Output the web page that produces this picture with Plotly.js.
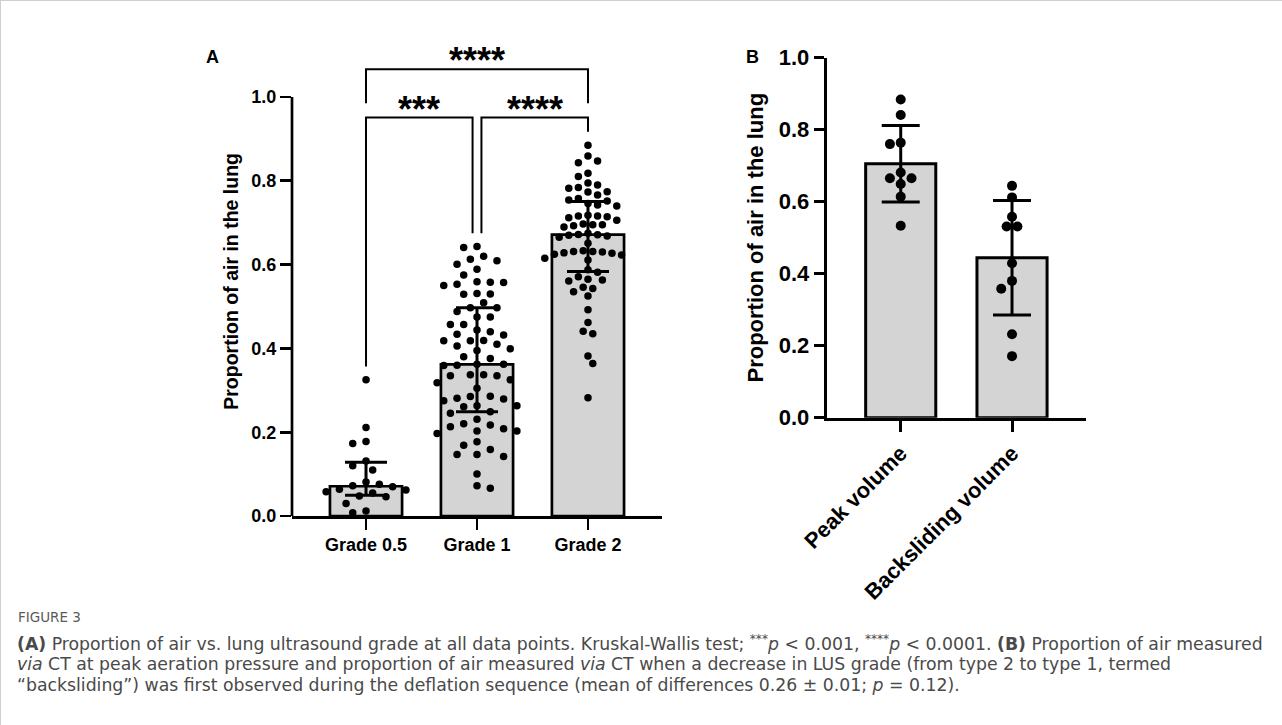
<!DOCTYPE html>
<html>
<head>
<meta charset="utf-8">
<script src="https://cdn.plot.ly/plotly-3.0.1.min.js"></script>
<style>
html,body{margin:0;padding:0;background:#fff;}
#chart{width:1282px;height:725px;}
</style>
</head>
<body>
<div id="chart"></div>
<script>
// ---------- DATA ----------
const categoriesA = ['Grade 0.5', 'Grade 1', 'Grade 2'];
const grade05 = [0.325, 0.211, 0.178, 0.173, 0.131, 0.120, 0.110, 0.081, 0.076, 0.072,
  0.070, 0.064, 0.062, 0.058, 0.055, 0.048, 0.046, 0.030, 0.012, 0.008];
const grade1 = [0.643, 0.641, 0.620, 0.613, 0.609, 0.601, 0.589, 0.575, 0.559, 0.558,
  0.557, 0.553, 0.550, 0.531, 0.530, 0.529, 0.509, 0.497, 0.497, 0.488,
  0.475, 0.475, 0.457, 0.457, 0.444, 0.440, 0.434, 0.432, 0.419, 0.418,
  0.418, 0.410, 0.406, 0.399, 0.395, 0.380, 0.376, 0.362, 0.362, 0.360,
  0.359, 0.337, 0.337, 0.335, 0.335, 0.325, 0.318, 0.305, 0.286, 0.285,
  0.281, 0.279, 0.275, 0.263, 0.263, 0.261, 0.249, 0.245, 0.231, 0.220,
  0.217, 0.213, 0.208, 0.203, 0.203, 0.197, 0.177, 0.169, 0.159, 0.147,
  0.147, 0.142, 0.100, 0.072, 0.066];
const grade2 = [0.885, 0.859, 0.847, 0.843, 0.818, 0.810, 0.795, 0.790, 0.784, 0.782,
  0.774, 0.773, 0.766, 0.758, 0.754, 0.752, 0.746, 0.742, 0.740, 0.718,
  0.716, 0.716, 0.714, 0.712, 0.706, 0.697, 0.695, 0.695, 0.693, 0.690,
  0.675, 0.672, 0.671, 0.670, 0.668, 0.665, 0.651, 0.633, 0.631, 0.631,
  0.630, 0.628, 0.627, 0.625, 0.623, 0.615, 0.611, 0.588, 0.582, 0.571,
  0.565, 0.563, 0.561, 0.546, 0.543, 0.535, 0.525, 0.492, 0.462, 0.441,
  0.435, 0.382, 0.364, 0.282];
const categoriesB = ['Peak volume', 'Backsliding volume'];
const peakVolume = [0.884, 0.841, 0.764, 0.760, 0.681, 0.665, 0.665, 0.649, 0.614, 0.533];
const backslidingVolume = [0.644, 0.612, 0.558, 0.531, 0.531, 0.429, 0.380, 0.358, 0.232, 0.171];
const yTickVals = [0, 0.2, 0.4, 0.6, 0.8, 1.0];
const comparisons = [
  {from: 0, to: 1, label: '***'},
  {from: 1, to: 2, label: '****'},
  {from: 0, to: 2, label: '****'}
];

// ---------- STATS ----------
function quantile(arr, p) { // GraphPad style: rank = p*(n+1)
  const s = arr.slice().sort((a, b) => a - b);
  const n = s.length;
  let r = p * (n + 1);
  if (r <= 1) return s[0];
  if (r >= n) return s[n - 1];
  const lo = Math.floor(r), f = r - lo;
  return s[lo - 1] + f * (s[lo] - s[lo - 1]);
}
const mean = a => a.reduce((s, v) => s + v, 0) / a.length;
const sd = a => { const m = mean(a); return Math.sqrt(a.reduce((s, v) => s + (v - m) ** 2, 0) / (a.length - 1)); };

const groupsA = [grade05, grade1, grade2];
const medA = groupsA.map(g => quantile(g, 0.5));
const q1A = groupsA.map(g => quantile(g, 0.25));
const q3A = groupsA.map(g => quantile(g, 0.75));
const groupsB = [peakVolume, backslidingVolume];
const meanB = groupsB.map(mean);
const sdB = groupsB.map(sd);

// ---------- GEOMETRY ----------
const W = 1282, H = 725;
const FONT = 'Liberation Sans, Arial, Helvetica, sans-serif';
const A = {xpx: [292, 662], xr: [-0.667, 2.667], ypx0: 516, pxPerY: 419, yr: [0, 1.12]};
const B = {xpx: [826.7, 1085.7], xr: [-0.665, 1.662], ypx0: 417.7, pxPerY: 360, yr: [0, 1.0]};
function doms(P) {
  const xd = [P.xpx[0] / W, P.xpx[1] / W];
  const yTopPx = P.ypx0 - P.pxPerY * (P.yr[1] - P.yr[0]);
  const yd = [(H - P.ypx0) / H, (H - yTopPx) / H];
  const pxPerX = (P.xpx[1] - P.xpx[0]) / (P.xr[1] - P.xr[0]);
  return {xd, yd, pxPerX};
}
const dA = doms(A), dB = doms(B);
// swarm spacing (px): collision distance and grid step per group
const swarmA = [{d: 11, step: 13.3}, {d: 10.5, step: 13.3}, {d: 8.8, step: 9.6}];
const swarmB = {d: 10.5, step: 10.8};

// grid beeswarm: offsets on a half-step grid, nearest free slot to the centre
function beeswarm(values, pxX, pxY, d, step) {
  const order = values.map((v, i) => i).sort((a, b) => values[b] - values[a]);
  const placed = [];
  const off = new Array(values.length);
  const cands = [0];
  for (let k = 1; k <= 20; k++) { cands.push(k * step / 2, -k * step / 2); }
  let flip = false;
  order.forEach(i => {
    const y = values[i] * pxY;
    const near = placed.filter(p => Math.abs(p.y - y) < d);
    const list = cands.slice().sort((a, b) => (Math.abs(a) - Math.abs(b)) || (flip ? a - b : b - a));
    const x = list.find(c => near.every(p => (p.x - c) ** 2 + (p.y - y) ** 2 >= d * d - 1e-6));
    flip = !flip;
    placed.push({x, y});
    off[i] = x / pxX;
  });
  return off;
}

// ---------- TRACES ----------
const traces = [];
traces.push({
  type: 'bar', x: [0, 1, 2], y: medA, width: 0.65, xaxis: 'x', yaxis: 'y',
  marker: {color: '#d4d4d4', line: {color: '#000', width: 2.7}},
  error_y: {type: 'data', symmetric: false,
    array: medA.map((m, i) => q3A[i] - m), arrayminus: medA.map((m, i) => m - q1A[i]),
    color: '#000', thickness: 3, width: 21},
  hoverinfo: 'skip'
});
groupsA.forEach((g, gi) => {
  const off = beeswarm(g, dA.pxPerX, A.pxPerY, swarmA[gi].d, swarmA[gi].step);
  traces.push({type: 'scatter', mode: 'markers', xaxis: 'x', yaxis: 'y',
    x: g.map((v, i) => gi + off[i]), y: g,
    marker: {color: '#000', size: 7.5, line: {width: 0}}, cliponaxis: false, hoverinfo: 'skip'});
});
traces.push({
  type: 'bar', x: [0, 1], y: meanB, width: 0.63, xaxis: 'x2', yaxis: 'y2',
  marker: {color: '#d4d4d4', line: {color: '#000', width: 3}},
  error_y: {type: 'data', array: sdB, color: '#000', thickness: 3, width: 19},
  hoverinfo: 'skip'
});
groupsB.forEach((g, gi) => {
  const off = beeswarm(g, dB.pxPerX, B.pxPerY, swarmB.d, swarmB.step);
  traces.push({type: 'scatter', mode: 'markers', xaxis: 'x2', yaxis: 'y2',
    x: g.map((v, i) => gi + off[i]), y: g,
    marker: {color: '#000', size: 10, line: {width: 0}}, cliponaxis: false, hoverinfo: 'skip'});
});

// ---------- SHAPES / ANNOTATIONS ----------
const shapes = [];
const annotations = [];
// y-axis line for panel A (0 to 1.0 only)
shapes.push({type: 'line', xref: 'x domain', yref: 'y', x0: 0, x1: 0, y0: 0, y1: 1.0,
  line: {color: '#000', width: 2.7}});
// significance brackets
const gap = 0.032, lowLevel = 0.951, topLevel = 1.066, inset = 0.04;
const groupMax = groupsA.map(g => Math.max(...g));
comparisons.forEach(c => {
  const adjacent = (c.to - c.from) === 1;
  const level = adjacent ? lowLevel : topLevel;
  const x0 = c.from + (adjacent && c.from === 1 ? inset : 0);
  const x1 = c.to - (adjacent && c.to === 1 ? inset : 0);
  const yL = adjacent ? groupMax[c.from] + gap : lowLevel + 0.034;
  const yR = adjacent ? groupMax[c.to] + gap : lowLevel + 0.034;
  shapes.push({type: 'path', xref: 'x', yref: 'y',
    path: `M ${x0},${yL} L ${x0},${level} L ${x1},${level} L ${x1},${yR}`,
    line: {color: '#000', width: 2}});
  annotations.push({xref: 'x', yref: 'y', x: (x0 + x1) / 2, y: level, text: c.label,
    showarrow: false, xanchor: 'center', yanchor: 'bottom', yshift: -14,
    font: {family: FONT, size: 36, weight: 'bold', color: '#000'}});
});
// panel letters
annotations.push({xref: 'paper', yref: 'paper', x: 212 / W, y: 1 - 57 / H, text: 'A',
  showarrow: false, xanchor: 'center', yanchor: 'middle',
  font: {family: FONT, size: 18, weight: 'bold', color: '#000'}});
annotations.push({xref: 'paper', yref: 'paper', x: 752 / W, y: 1 - 57 / H, text: 'B',
  showarrow: false, xanchor: 'center', yanchor: 'middle',
  font: {family: FONT, size: 18, weight: 'bold', color: '#000'}});
// caption
const capFont = {family: 'DejaVu Sans, Noto Sans, sans-serif', size: 17.3, color: '#4a4a4a'};
const captionLines = [
  '<b>(A)</b> Proportion of air vs. lung ultrasound grade at all data points. Kruskal-Wallis test; <sup>***</sup><i>p</i> &lt; 0.001, <sup>****</sup><i>p</i> &lt; 0.0001. <b>(B)</b> Proportion of air measured',
  '<i>via</i> CT at peak aeration pressure and proportion of air measured <i>via</i> CT when a decrease in LUS grade (from type 2 to type 1, termed',
  '\u201cbacksliding\u201d) was first observed during the deflation sequence (mean of differences 0.26 \u00b1 0.01; <i>p</i> = 0.12).'
];
annotations.push({xref: 'paper', yref: 'paper', x: 17 / W, y: 1 - 617 / H, text: 'FIGURE 3',
  showarrow: false, xanchor: 'left', yanchor: 'middle', borderpad: 0,
  font: {family: 'DejaVu Sans, Noto Sans, sans-serif', size: 13.5, color: '#5a5a5a'}});
captionLines.forEach((t, i) => {
  annotations.push({xref: 'paper', yref: 'paper', x: 16 / W, y: 1 - (643 + 21 * i) / H, text: t,
    showarrow: false, xanchor: 'left', yanchor: 'middle', align: 'left', borderpad: 0, font: capFont});
});
// frame
shapes.push({type: 'line', xref: 'paper', yref: 'paper', x0: 0, x1: 1, y0: 1, y1: 1, line: {color: '#cfcfcf', width: 2}});
shapes.push({type: 'line', xref: 'paper', yref: 'paper', x0: 0, x1: 0, y0: 0, y1: 1, line: {color: '#cfcfcf', width: 2}});

// ---------- LAYOUT ----------
const tickA = {family: FONT, size: 18, weight: 'bold', color: '#000'};
const tickB = {family: FONT, size: 22, weight: 'bold', color: '#000'};
const layout = {
  width: W, height: H, margin: {l: 0, r: 0, t: 0, b: 0},
  paper_bgcolor: '#fff', plot_bgcolor: 'rgba(0,0,0,0)', showlegend: false,
  barmode: 'overlay',
  xaxis: {domain: dA.xd, range: A.xr, anchor: 'y', tickvals: [0, 1, 2], ticktext: categoriesA,
    ticks: 'outside', ticklen: 11, tickwidth: 2.7, tickcolor: '#000',
    showline: true, linewidth: 2.7, linecolor: '#000', showgrid: false, zeroline: false,
    tickfont: tickA, fixedrange: true},
  yaxis: {domain: dA.yd, range: A.yr, anchor: 'x', tickvals: yTickVals, tickformat: '.1f',
    ticks: 'outside', ticklen: 11, tickwidth: 2.7, tickcolor: '#000',
    showline: false, showgrid: false, zeroline: false, tickfont: tickA, fixedrange: true,
    title: {text: 'Proportion of air in the lung', standoff: 7,
      font: {family: FONT, size: 19.5, weight: 'bold', color: '#000'}}},
  xaxis2: {domain: dB.xd, range: B.xr, anchor: 'y2', tickvals: [0, 1], ticktext: categoriesB,
    tickangle: -45, ticks: 'outside', ticklen: 11, tickwidth: 3, tickcolor: '#000',
    showline: true, linewidth: 3, linecolor: '#000', showgrid: false, zeroline: false,
    tickfont: tickB, fixedrange: true},
  yaxis2: {domain: dB.yd, range: B.yr, anchor: 'x2', tickvals: yTickVals, tickformat: '.1f',
    ticks: 'outside', ticklen: 10, tickwidth: 3, tickcolor: '#000',
    showline: true, linewidth: 3, linecolor: '#000', showgrid: false, zeroline: false,
    tickfont: tickB, fixedrange: true,
    title: {text: 'Proportion of air in the lung', standoff: 9,
      font: {family: FONT, size: 22, weight: 'bold', color: '#000'}}},
  shapes, annotations
};
Plotly.newPlot('chart', traces, layout, {displayModeBar: false, staticPlot: true});
</script>
</body>
</html>
